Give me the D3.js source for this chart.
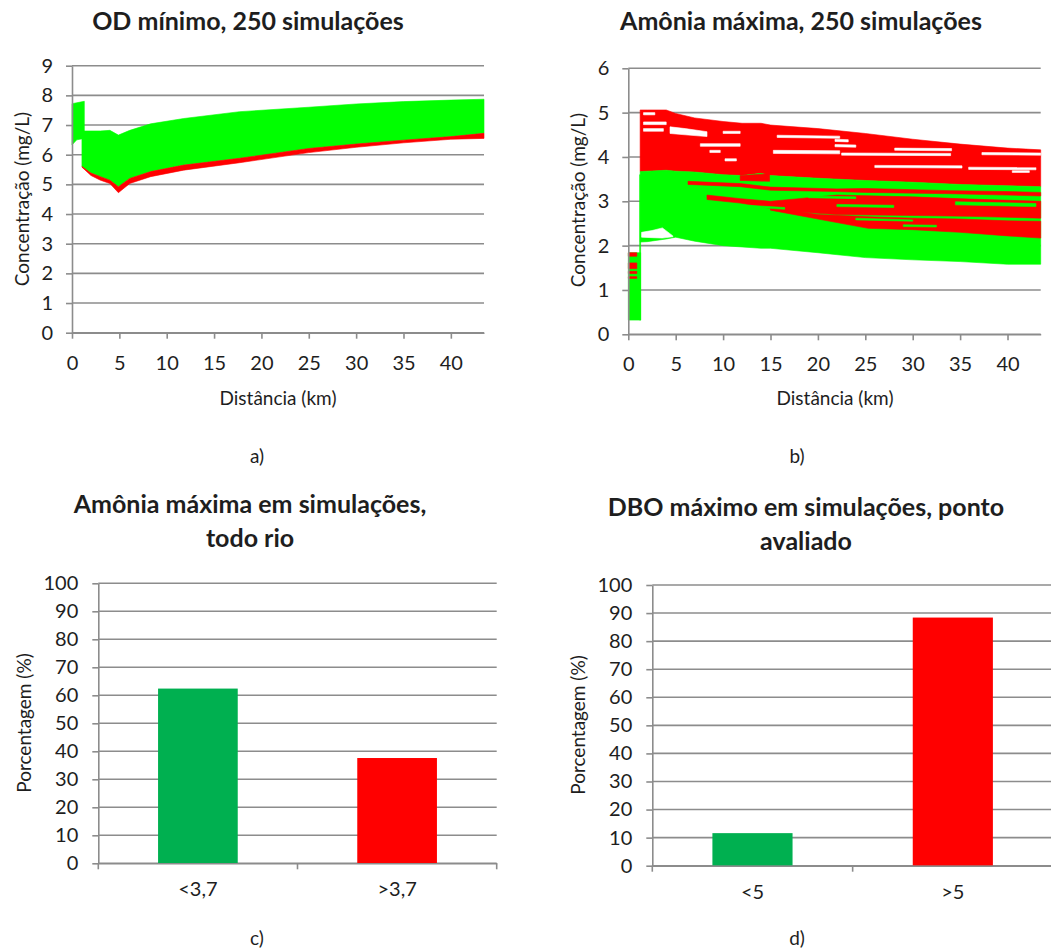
<!DOCTYPE html>
<html>
    <head>
        <title>Simulações</title>
        <meta charset="utf-8">
        <style>
            html, body {
                margin: 0px;
                padding: 0px;
                background-color: #fff;
            }

            svg text {
                font-family: Lato, "Open Sans", sans-serif;
                fill: #1e1e1e;
            }

            .grid line, .axis line, .axis path {
                stroke: #8c8c8c;
                stroke-width: 1.6px;
                fill: none;
            }

            .axis text {
                font-size: 20px;
                fill: #1e1e1e;
            }

            .title {
                font-size: 25px;
                font-weight: bold;
            }

            .label {
                font-size: 19px;
            }
        </style>
        <script src="https://cdn.jsdelivr.net/npm/d3@7"></script>
    </head>
    <body>
        <div id="main"></div>

        <script>
            // eixo x dos graficos de linha (km)
            var kmTicks = [0, 5, 10, 15, 20, 25, 30, 35, 40];

            // a) OD minimo: trecho inicial (antes do lancamento) e faixa principal
            var odTicks = [0, 1, 2, 3, 4, 5, 6, 7, 8, 9];
            var odKmStart = [0, 0.5, 1.3];
            var odTopStart = [7.72, 7.75, 7.8];
            var odBottomStart = [6.33, 6.5, 6.55];
            var odKm = [1.05, 2, 3, 4, 4.9, 6.1, 8.3, 11.8, 17.7, 25, 30, 35, 40, 43.5];
            var odGreenTop = [6.8, 6.8, 6.8, 6.82, 6.66, 6.82, 7.04, 7.22, 7.45, 7.6, 7.71, 7.79, 7.84, 7.87];
            var odRedTop = [5.6, 5.38, 5.26, 5.14, 4.92, 5.2, 5.43, 5.65, 5.88, 6.21, 6.36, 6.49, 6.61, 6.72];
            var odRedBottom = [5.58, 5.3, 5.14, 5.03, 4.72, 5.03, 5.26, 5.48, 5.73, 6.07, 6.25, 6.4, 6.52, 6.55];

            // b) Amonia maxima
            var nhTicks = [0, 1, 2, 3, 4, 5, 6];
            var nhKmStart = [0, 1.3];
            var nhTopStart = [1.84, 1.84];
            var nhBottomStart = [0.32, 0.32];
            var nhRedStart = [
                [[0, 1.84, 1.76], [0.9, 1.84, 1.76]],
                [[0, 1.61, 1.48], [0.9, 1.61, 1.48]],
                [[0, 1.42, 1.37], [0.9, 1.42, 1.37]],
                [[0, 1.3, 1.26], [0.9, 1.3, 1.26]]
            ];
            var nhJump = [[1.2, 3.6, 0.32], [1.3, 3.6, 0.32]];
            var nhKm = [1.25, 2, 4, 5, 7, 10, 12, 14, 15, 20, 25, 30, 35, 40, 43.5];
            var nhRedTop = [5.06, 5.06, 5.06, 4.98, 4.88, 4.8, 4.76, 4.76, 4.72, 4.64, 4.53, 4.4, 4.29, 4.2, 4.16];
            var nhGreenTop = [3.67, 3.68, 3.7, 3.68, 3.66, 3.6, 3.58, 3.63, 3.58, 3.52, 3.47, 3.43, 3.38, 3.35, 3.33];
            var nhGreenBottom = [2.08, 2.09, 2.15, 2.19, 2.1, 2.0, 1.97, 1.94, 1.94, 1.84, 1.73, 1.68, 1.64, 1.58, 1.58];
            // simulacoes vermelhas no meio da faixa verde: [km, topo, base]
            var nhRedStrands = [
                [[6.3, 3.45, 3.38], [11.8, 3.4, 3.33], [15, 3.32, 3.25], [22, 3.28, 3.22], [25, 3.29, 3.2], [34, 3.24, 3.17], [40, 3.22, 3.14], [43.5, 3.2, 3.12]],
                [[8.3, 3.14, 3.04], [11.8, 3.06, 2.96], [15, 3.0, 2.84], [18, 3.06, 2.76], [22, 3.14, 2.7], [30, 3.1, 2.68], [36, 3.05, 2.66], [43.5, 3.0, 2.62]],
                [[15, 2.86, 2.8], [20, 2.7, 2.6], [25.3, 2.65, 2.39], [30, 2.62, 2.36], [35, 2.6, 2.3], [40, 2.56, 2.22], [43.5, 2.55, 2.17]],
                [[11.8, 3.58, 3.47], [14.9, 3.62, 3.45]]
            ];
            var nhGreenStrips = [
                [[22, 2.93, 2.88], [28, 2.91, 2.86]],
                [[34.5, 2.99, 2.92], [43, 2.95, 2.88]],
                [[29, 2.47, 2.43], [32.5, 2.46, 2.42]],
                [[19, 3.12, 3.08], [24, 3.1, 3.06]],
                [[12, 2.92, 2.88], [16.5, 2.86, 2.82]],
                [[24, 2.62, 2.58], [30, 2.58, 2.55]]
            ];
            // intervalos sem simulacao (brancos)
            var nhGaps = [
                [[1.6, 5.0, 4.95], [2.8, 5.0, 4.95]],
                [[1.6, 4.79, 4.73], [4.0, 4.79, 4.73]],
                [[1.6, 4.64, 4.58], [3.7, 4.64, 4.58]],
                [[4.4, 4.68, 4.53], [6, 4.64, 4.5], [8.3, 4.57, 4.46]],
                [[7.6, 4.3, 4.24], [11.8, 4.3, 4.24]],
                [[8.6, 4.15, 4.1], [9.7, 4.15, 4.1]],
                [[10.2, 3.96, 3.91], [11.4, 3.96, 3.91]],
                [[10, 4.58, 4.53], [11.8, 4.58, 4.53]],
                [[15.7, 4.49, 4.44], [22.3, 4.47, 4.42]],
                [[15.3, 4.15, 4.08], [22.3, 4.14, 4.07]],
                [[21.8, 4.4, 4.35], [23.2, 4.39, 4.34]],
                [[21.8, 4.28, 4.23], [24, 4.27, 4.22]],
                [[28.1, 4.2, 4.15], [34.1, 4.19, 4.14]],
                [[22.5, 4.09, 4.04], [34, 4.08, 4.03]],
                [[26, 3.81, 3.76], [35.2, 3.8, 3.75]],
                [[35.9, 3.77, 3.72], [43, 3.76, 3.71]],
                [[37.3, 4.1, 4.05], [43.5, 4.09, 4.04]],
                [[40.5, 3.69, 3.65], [42.3, 3.69, 3.65]],
                [[1.4, 2.3, 2.19], [2.5, 2.34, 2.18], [3.6, 2.4, 2.17], [4.7, 2.22, 2.2]]
            ];

            // c) e d) porcentagens
            var pctTicks = [0, 10, 20, 30, 40, 50, 60, 70, 80, 90, 100];
            var nhCats = ["<3,7", ">3,7"];
            var nhPct = [62.4, 37.6];
            var dboCats = ["<5", ">5"];
            var dboPct = [11.6, 88.4];

            var green = "#00ff00";
            var red = "#ff0000";
            var barColors = ["#00b050", "#ff0000"];

            var width = 1051;
            var height = 948;

            function addText(svg, cls, x, y, txt, rotate) {
                var t = svg.append("text")
                    .attr("class", cls)
                    .attr("text-anchor", "middle");
                if (rotate) {
                    t.attr("transform", "translate(" + x + "," + y + ") rotate(-90)")
                        .attr("dy", "0.35em");
                } else {
                    t.attr("x", x).attr("y", y);
                }
                t.text(txt);
            }

            function gridLines(g, y, ticks, x0, x1) {
                g.append("g")
                    .attr("class", "grid")
                    .selectAll("line")
                    .data(ticks)
                    .enter()
                    .append("line")
                    .attr("x1", x0)
                    .attr("x2", x1)
                    .attr("y1", function(d) { return y(d); })
                    .attr("y2", function(d) { return y(d); });
            }

            function band(g, x, y, pts, color) {
                var area = d3.area()
                    .x(function(d) { return x(d[0]); })
                    .y0(function(d) { return y(d[2]); })
                    .y1(function(d) { return y(d[1]); });
                g.append("path")
                    .datum(pts)
                    .attr("d", area)
                    .attr("fill", color)
                    .attr("stroke", color)
                    .attr("stroke-width", 0.6);
            }

            function lineFrame(svg, box, yMax, yTicks) {
                var x = d3.scaleLinear().domain([0, 43.5]).range([box.left, box.right]);
                var y = d3.scaleLinear().domain([0, yMax]).range([box.bottom, box.top]);
                gridLines(svg, y, yTicks, box.left, box.right);
                var plot = svg.append("g");
                return { x: x, y: y, plot: plot };
            }

            function lineAxes(svg, f, box, yTicks) {
                svg.append("g")
                    .attr("class", "axis")
                    .attr("transform", "translate(" + box.left + ",0)")
                    .call(d3.axisLeft(f.y).tickValues(yTicks).tickFormat(d3.format("d"))
                        .tickSize(6).tickSizeOuter(0).tickPadding(13));
                svg.append("g")
                    .attr("class", "axis")
                    .attr("transform", "translate(0," + box.bottom + ")")
                    .call(d3.axisBottom(f.x).tickValues(kmTicks).tickFormat(d3.format("d"))
                        .tickSize(6).tickSizeOuter(0).tickPadding(17));
            }

            function chartA(svg) {
                var box = { left: 72, right: 484, top: 65.7, bottom: 332.7 };
                var f = lineFrame(svg, box, 9, odTicks);
                band(f.plot, f.x, f.y, d3.zip(odKmStart, odTopStart, odBottomStart), green);
                band(f.plot, f.x, f.y, d3.zip(odKm, odGreenTop, odRedTop), green);
                band(f.plot, f.x, f.y, d3.zip(odKm, odRedTop, odRedBottom), red);
                lineAxes(svg, f, box, odTicks);
                addText(svg, "title", 248, 30, "OD mínimo, 250 simulações");
                addText(svg, "label", 22, 199, "Concentração (mg/L)", true);
                addText(svg, "label", 278, 405, "Distância (km)");
                addText(svg, "label", 257, 463, "a)");
            }

            function chartB(svg) {
                var box = { left: 628.3, right: 1040.7, top: 68.3, bottom: 334.3 };
                var f = lineFrame(svg, box, 6, nhTicks);
                band(f.plot, f.x, f.y, d3.zip(nhKmStart, nhTopStart, nhBottomStart), green);
                nhRedStart.forEach(function(s) { band(f.plot, f.x, f.y, s, red); });
                band(f.plot, f.x, f.y, nhJump, green);
                band(f.plot, f.x, f.y, d3.zip(nhKm, nhRedTop, nhGreenTop), red);
                band(f.plot, f.x, f.y, d3.zip(nhKm, nhGreenTop, nhGreenBottom), green);
                nhRedStrands.forEach(function(s) { band(f.plot, f.x, f.y, s, red); });
                nhGreenStrips.forEach(function(s) { band(f.plot, f.x, f.y, s, green); });
                nhGaps.forEach(function(s) { band(f.plot, f.x, f.y, s, "#fff"); });
                lineAxes(svg, f, box, nhTicks);
                addText(svg, "title", 801, 30, "Amônia máxima, 250 simulações");
                addText(svg, "label", 578, 200, "Concentração (mg/L)", true);
                addText(svg, "label", 835, 405, "Distância (km)");
                addText(svg, "label", 797, 463, "b)");
            }

            function barChart(svg, box, cats, vals) {
                var x = d3.scaleBand().domain(cats).range([box.left, box.right])
                    .paddingInner(0.6).paddingOuter(0.3);
                var y = d3.scaleLinear().domain([0, 100]).range([box.bottom, box.top]);
                gridLines(svg, y, pctTicks, box.left, box.right);

                svg.append("g")
                    .selectAll("rect")
                    .data(vals)
                    .enter()
                    .append("rect")
                    .attr("x", function(d, i) { return x(cats[i]); })
                    .attr("width", x.bandwidth())
                    .attr("y", function(d) { return y(d); })
                    .attr("height", function(d) { return y(0) - y(d); })
                    .attr("fill", function(d, i) { return barColors[i]; });

                svg.append("g")
                    .attr("class", "axis")
                    .attr("transform", "translate(" + box.left + ",0)")
                    .call(d3.axisLeft(y).tickValues(pctTicks).tickSize(6).tickSizeOuter(0).tickPadding(14));

                var xa = svg.append("g")
                    .attr("class", "axis")
                    .attr("transform", "translate(0," + box.bottom + ")");
                xa.call(d3.axisBottom(x).tickSize(0).tickSizeOuter(0).tickPadding(19));
                // marcas entre categorias
                xa.selectAll(".sep")
                    .data(d3.range(cats.length + 1))
                    .enter()
                    .append("line")
                    .attr("class", "sep")
                    .attr("x1", function(i) { return box.left + i * x.step(); })
                    .attr("x2", function(i) { return box.left + i * x.step(); })
                    .attr("y1", 0)
                    .attr("y2", 6);
            }

            function chartC(svg) {
                var box = { left: 98.3, right: 496.7, top: 583.3, bottom: 863.3 };
                barChart(svg, box, nhCats, nhPct);
                addText(svg, "title", 250, 513, "Amônia máxima em simulações,");
                addText(svg, "title", 250, 547, "todo rio");
                addText(svg, "label", 24, 723, "Porcentagem (%)", true);
                addText(svg, "label", 257, 945, "c)");
            }

            function chartD(svg) {
                var box = { left: 652.3, right: 1053, top: 585, bottom: 865.7 };
                barChart(svg, box, dboCats, dboPct);
                addText(svg, "title", 806, 516, "DBO máximo em simulações, ponto");
                addText(svg, "title", 806, 550, "avaliado");
                addText(svg, "label", 578, 725, "Porcentagem (%)", true);
                addText(svg, "label", 797, 945, "d)");
            }

            function main() {
                var svg = d3.select("#main")
                    .append("svg")
                    .attr("width", width)
                    .attr("height", height);
                chartA(svg);
                chartB(svg);
                chartC(svg);
                chartD(svg);
            }

            main();
        </script>
    </body>
</html>
